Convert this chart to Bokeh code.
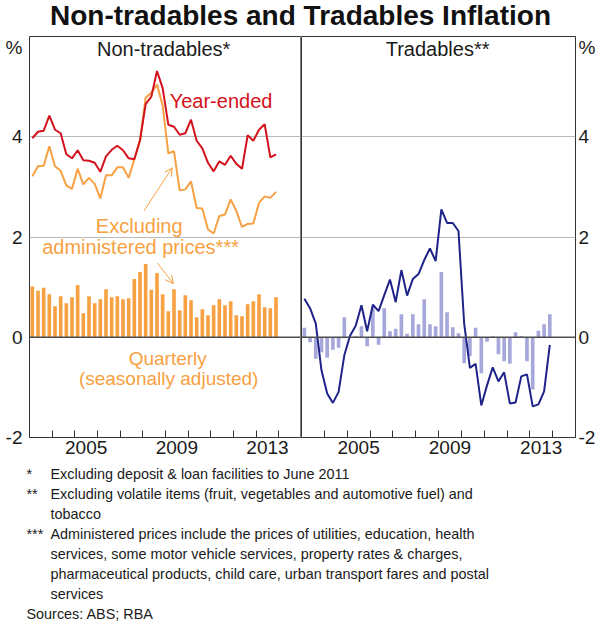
from bokeh.plotting import figure
from bokeh.models import Range1d, FixedTicker, Span, Label, Arrow, OpenHead, ColumnDataSource
from bokeh.layouts import column, row
from bokeh.embed import file_html
from bokeh.resources import INLINE

# ---------------- data (quarterly, 2003 Q1 .. 2013 Q4) ----------------
years = list(range(2003, 2014))
quarters = [1, 2, 3, 4]

nontrad_year_ended = [3.97, 4.10, 4.12, 4.42, 4.14, 4.07, 3.65, 3.57, 3.73, 3.53, 3.52,
                      3.48, 3.30, 3.61, 3.74, 3.82, 3.73, 3.57, 3.55, 3.93, 4.65, 4.80,
                      5.31, 4.97, 4.24, 4.20, 4.04, 4.07, 4.34, 3.92, 3.77, 3.48, 3.31,
                      3.51, 3.44, 3.62, 3.46, 3.36, 4.03, 3.92, 4.14, 4.25, 3.59, 3.65]
nontrad_ex_admin = [3.21, 3.41, 3.42, 3.81, 3.41, 3.32, 3.03, 2.96, 3.36, 3.05, 3.18,
                    3.06, 2.77, 3.23, 3.23, 3.39, 3.39, 3.18, 3.55, 3.93, 4.78, 4.88,
                    5.04, 4.62, 3.67, 3.71, 2.93, 2.95, 3.11, 2.58, 2.57, 2.15, 2.07,
                    2.42, 2.45, 2.75, 2.52, 2.20, 2.26, 2.27, 2.68, 2.81, 2.78, 2.90]
nontrad_quarterly = [1.01, 0.93, 0.99, 0.86, 0.62, 0.82, 0.68, 0.80, 1.04, 0.48, 0.82,
                     0.68, 0.76, 0.96, 0.80, 0.82, 0.76, 0.78, 1.16, 1.30, 1.46, 0.95,
                     1.28, 0.86, 0.52, 0.96, 0.54, 0.84, 0.74, 0.40, 0.56, 0.44, 0.64,
                     0.76, 0.64, 0.72, 0.44, 0.42, 0.66, 0.72, 0.86, 0.60, 0.58, 0.80]
trad_year_ended = [0.77, 0.58, 0.27, -0.66, -1.12, -1.31, -1.09, -0.36, 0.03, 0.23, 0.64,
                   0.12, 0.65, 0.52, 0.84, 1.15, 0.70, 1.34, 0.83, 1.16, 1.26, 1.54,
                   1.77, 1.52, 2.55, 2.28, 2.28, 2.12, 0.27, -0.61, -0.53, -1.36, -0.96,
                   -0.60, -0.88, -0.70, -1.32, -1.30, -0.78, -0.74, -1.38, -1.34, -1.08, -0.15]
trad_quarterly = [0.19, -0.10, -0.43, -0.30, -0.41, -0.25, -0.21, 0.40, 0.01, 0.02, 0.22,
                  -0.18, 0.60, -0.15, 0.58, 0.12, 0.17, 0.46, 0.07, 0.46, 0.26, 0.76,
                  0.26, 0.22, 1.30, 0.50, 0.20, 0.08, -0.52, -0.38, 0.19, -0.72, -0.09,
                  0.02, -0.34, -0.48, -0.53, 0.10, 0.02, -0.48, -1.04, 0.13, 0.26, 0.46]

x_tick_labels = ["2005", "2009", "2013"]
y_ticks = [-2, 0, 2, 4, 6]
y_tick_labels = ["-2", "0", "2", "4", "%"]

footnotes = [
    ("*", "Excluding deposit & loan facilities to June 2011"),
    ("**", "Excluding volatile items (fruit, vegetables and automotive fuel) and"),
    ("", "tobacco"),
    ("***", "Administered prices include the prices of utilities, education, health"),
    ("", "services, some motor vehicle services, property rates & charges,"),
    ("", "pharmaceutical products, child care, urban transport fares and postal"),
    ("", "services"),
]
sources = "Sources: ABS; RBA"

# ---------------- styling ----------------
FONT = "Liberation Sans"
RED = "#D3121D"
ORANGE = "#F7A143"
NAVY = "#1E2389"
LAVENDER = "#A6A7DA"
TXT = "#1a1a1a"

xq = [y + (q - 0.5) / 4 for y in years for q in quarters]
src_l = ColumnDataSource(dict(x=xq, ye=nontrad_year_ended, ex=nontrad_ex_admin, q=nontrad_quarterly))
src_r = ColumnDataSource(dict(x=xq, ye=trad_year_ended, q=trad_quarterly))


def make_panel(side):
    left = side == "left"
    p = figure(frame_width=272 if left else 274, frame_height=401,
               x_range=Range1d(2003, 2015), y_range=Range1d(-2, 6),
               output_backend="svg", toolbar_location=None,
               y_axis_location=side,
               min_border_left=29 if left else 0, min_border_right=0 if left else 25,
               min_border_top=0, min_border_bottom=24)
    p.outline_line_color = "#333333"
    p.outline_line_width = 1
    p.background_fill_color = "white"
    p.border_fill_color = "white"
    # x axis: year boundaries as minor ticks, labels mid-year
    mids = [int(s) + 0.5 for s in x_tick_labels]
    p.xaxis.ticker = FixedTicker(ticks=mids, minor_ticks=list(range(2003, 2016)))
    p.xaxis.major_label_overrides = {m: s for m, s in zip(mids, x_tick_labels)}
    p.xaxis.major_tick_in = 0
    p.xaxis.major_tick_out = 0
    p.xaxis.minor_tick_in = 7
    p.xaxis.minor_tick_out = 0
    p.xaxis.minor_tick_line_color = "#333333"
    p.xaxis.axis_line_color = None
    p.xaxis.major_label_standoff = 3
    # y axis
    p.yaxis.ticker = FixedTicker(ticks=y_ticks)
    p.yaxis.major_label_overrides = {t: s for t, s in zip(y_ticks, y_tick_labels)}
    p.yaxis.major_tick_in = 0
    p.yaxis.major_tick_out = 0
    p.yaxis.minor_tick_line_color = None
    p.yaxis.axis_line_color = None
    p.yaxis.major_label_standoff = 7 if left else 3
    for ax in (p.xaxis, p.yaxis):
        ax.major_label_text_font = FONT
        ax.major_label_text_font_size = "19px"
        ax.major_label_text_color = TXT
    p.xgrid.visible = False
    p.ygrid.ticker = FixedTicker(ticks=[2, 4])
    p.ygrid.grid_line_color = "#b8b8b8"
    p.ygrid.grid_line_width = 1
    return p


# ---------------- left panel ----------------
pl = make_panel("left")
pl.vbar(x="x", top="q", bottom=0, width=0.16, source=src_l, fill_color=ORANGE, line_color=None)
pl.line(x="x", y="ex", source=src_l, line_color=ORANGE, line_width=2)
pl.line(x="x", y="ye", source=src_l, line_color=RED, line_width=2)
pl.add_layout(Span(location=0, dimension="width", line_color="#4d4d4d", line_width=1.5))
pl.add_layout(Span(location=2015, dimension="height", line_color="#7f7f7f", line_width=3))


def lab(p, x, y, text, color, size="20px"):
    p.add_layout(Label(x=x, y=y, text=text, text_align="center", text_baseline="middle",
                       text_font=FONT, text_font_size=size, text_color=color))


lab(pl, 2008.92, 5.75, "Non-tradables*", TXT)
lab(pl, 2011.45, 4.72, "Year-ended", RED)
lab(pl, 2007.84, 2.22, "Excluding", ORANGE)
lab(pl, 2007.90, 1.80, "administered prices***", ORANGE)
lab(pl, 2009.10, -0.42, "Quarterly", ORANGE, "19px")
lab(pl, 2009.14, -0.82, "(seasonally adjusted)", ORANGE, "19px")
pl.add_layout(Arrow(end=OpenHead(size=8, line_color=ORANGE, line_width=1),
                    x_start=2008.05, y_start=2.52, x_end=2009.30, y_end=3.38,
                    line_color=ORANGE, line_width=1))
pl.add_layout(Arrow(end=OpenHead(size=8, line_color=ORANGE, line_width=1),
                    x_start=2008.64, y_start=1.48, x_end=2009.35, y_end=1.07,
                    line_color=ORANGE, line_width=1))

# ---------------- right panel ----------------
pr = make_panel("right")
pr.vbar(x="x", top="q", bottom=0, width=0.16, source=src_r, fill_color=LAVENDER, line_color=None)
pr.add_layout(Span(location=0, dimension="width", line_color="#4d4d4d", line_width=1.5))
pr.line(x="x", y="ye", source=src_r, line_color=NAVY, line_width=2)
lab(pr, 2008.96, 5.75, "Tradables**", TXT)

# ---------------- title ----------------
tf = figure(width=600, height=36, x_range=Range1d(0, 600), y_range=Range1d(36, 0),
            output_backend="svg", toolbar_location=None, min_border=0,
            x_axis_type=None, y_axis_type=None, outline_line_color=None)
tf.add_layout(Label(x=300, y=14.5, text="Non-tradables and Tradables Inflation",
                    text_align="center", text_baseline="middle", text_font=FONT,
                    text_font_style="bold", text_font_size="28px", text_color="#111111"))

# ---------------- footnotes ----------------
NH = 162
nf = figure(width=600, height=NH, x_range=Range1d(0, 600), y_range=Range1d(NH, 0),
            output_backend="svg", toolbar_location=None, min_border=0,
            x_axis_type=None, y_axis_type=None, outline_line_color=None)
y0 = 12
for i, (sym, txt) in enumerate(footnotes):
    yy = y0 + i * 20.1
    if sym:
        nf.add_layout(Label(x=26, y=yy, text=sym, text_baseline="middle", text_font=FONT,
                            text_font_size="14.4px", text_color=TXT))
    nf.add_layout(Label(x=50, y=yy, text=txt, text_baseline="middle", text_font=FONT,
                        text_font_size="14.4px", text_color=TXT))
nf.add_layout(Label(x=26, y=y0 + 7 * 20.1, text=sources, text_baseline="middle", text_font=FONT,
                    text_font_size="14.4px", text_color=TXT))

layout = column(tf, row(pl, pr), nf)
open("out.html", "w").write(file_html(layout, INLINE))
